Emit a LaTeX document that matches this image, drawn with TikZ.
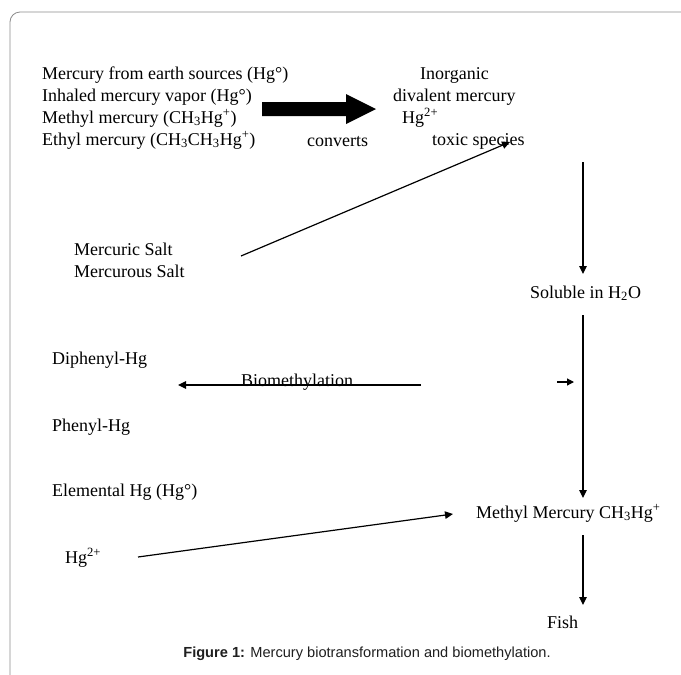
\documentclass[tikz,border=0pt]{standalone}
\usepackage{fontspec}
\setmainfont{Liberation Serif}
\newfontfamily\capfont{Liberation Sans}
\usetikzlibrary{arrows.meta}
\begin{document}
\begin{tikzpicture}[x=1pt,y=-1pt,
  txt/.style={font=\fontsize{18}{22}\selectfont, inner sep=0pt, anchor=base west},
  conn/.style={line width=1.2pt, -{Triangle[length=8pt,width=7.5pt]}},
  frame/.style={draw=black!45, line width=0.8pt, rounded corners=10pt}]
\useasboundingbox (0,0) rectangle (681,675);
\fill[white] (0,0) rectangle (681,675);
% frame
\draw[frame] (681,12) -- (10,12) -- (10,675);

% left block
\node[txt] (earth) at (42,79) {Mercury from earth sources (Hg°)};
\node[txt] (vapor) at (42,101) {Inhaled mercury vapor (Hg°)};
\node[txt] (methyl) at (42,123) {Methyl mercury (CH\textsubscript{3}Hg\textsuperscript{+})};
\node[txt] (ethyl) at (42,145) {Ethyl mercury (CH\textsubscript{3}CH\textsubscript{3}Hg\textsuperscript{+})};

% big block arrow
\coordinate (ba1) at (262,102);
\coordinate (ba2) at (346,102);
\coordinate (ba3) at (346,94);
\coordinate (ba4) at (376,109);
\coordinate (ba5) at (346,124);
\coordinate (ba6) at (346,116);
\coordinate (ba7) at (262,116);
\fill[black] (ba1) -- (ba2) -- (ba3) -- (ba4) -- (ba5) -- (ba6) -- (ba7) -- cycle;
\node[txt] (converts) at (307,146) {converts};

% inorganic block
\node[txt] (inorg) at (420,79) {Inorganic};
\node[txt] (dival) at (393,101) {divalent mercury};
\node[txt] (hgtwo) at (402,123) {Hg\textsuperscript{2+}};
\node[txt] (toxic) at (432,145) {toxic species};

% salts
\node[txt] (mercuric) at (74,255) {Mercuric Salt};
\node[txt] (mercurous) at (74,277) {Mercurous Salt};
\coordinate (saltend) at (241,256);
\coordinate (toxictip) at (510,142);
\draw[conn] (saltend) -- (toxictip);

% right column
\node[txt] (soluble) at (530,298) {Soluble in H\textsubscript{2}O};
\coordinate (c1top) at (583,162);
\coordinate (c1bot) at (583,274);
\draw[conn] (c1top) -- (c1bot);

\node[txt] (mm) at (476,518) {Methyl Mercury CH\textsubscript{3}Hg\textsuperscript{+}};
\coordinate (c2top) at (583,315);
\coordinate (c2bot) at (583,498);
\draw[conn] (c2top) -- (c2bot);

\node[txt] (fish) at (547,628) {Fish};
\coordinate (c3top) at (583,535);
\coordinate (c3bot) at (583,605);
\draw[conn] (c3top) -- (c3bot);

% left column
\node[txt] (diphenyl) at (52,364) {Diphenyl-Hg};
\node[txt] (phenyl) at (52,431) {Phenyl-Hg};
\node[txt] (elemental) at (52,496) {Elemental Hg (Hg°)};
\node[txt] (hgtwob) at (65,563) {Hg\textsuperscript{2+}};

% biomethylation
\node[txt] (biometh) at (241,386) {Biomethylation};
\coordinate (bmstart) at (421,385);
\coordinate (bmend) at (178,385);
\draw[conn] (bmstart) -- (bmend);
\coordinate (sm1) at (557,382);
\coordinate (sm2) at (574,382);
\draw[line width=1.2pt, -{Triangle[length=7pt,width=7pt]}] (sm1) -- (sm2);

% Hg2+ to methyl mercury
\coordinate (hgstart) at (138,557);
\coordinate (mmtip) at (453,514);
\draw[conn] (hgstart) -- (mmtip);

% caption
\node[font=\capfont\fontsize{14.6}{17}\selectfont, text=black!88, inner sep=0pt, anchor=base] (caption) at (367,657) {\textbf{Figure 1:} Mercury biotransformation and biomethylation.};
\end{tikzpicture}
\end{document}
